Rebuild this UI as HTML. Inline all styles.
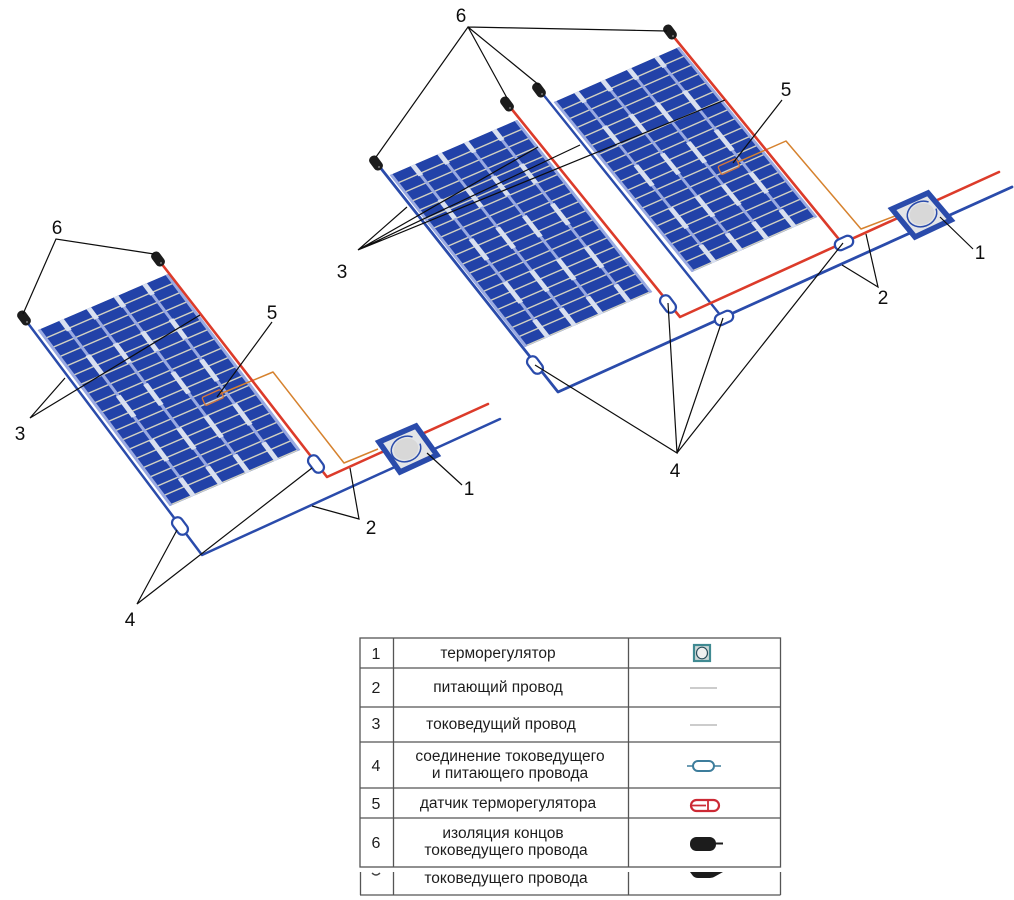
<!DOCTYPE html>
<html lang="ru">
<head>
<meta charset="utf-8">
<title>Схема</title>
<style>
html,body{margin:0;padding:0;background:#fff;width:1014px;height:900px;overflow:hidden}
svg{display:block}
text{font-family:"Liberation Sans",sans-serif}
.lab{font-size:19px;fill:#111;text-anchor:middle}
.tx{font-size:15.5px;fill:#1f1f1f;text-anchor:middle}
.num{font-size:16px;fill:#1f1f1f;text-anchor:middle}
.lead{stroke:#0c0c0c;stroke-width:1.200;fill:none}
.bl{stroke:#2a4cab;fill:none;stroke-linejoin:round;stroke-linecap:round}
.rd{stroke:#dc3a2a;fill:none;stroke-linejoin:round;stroke-linecap:round}
.or{stroke:#d6822f;stroke-width:1.500;fill:none;stroke-linejoin:round}
.tb{stroke:#555;stroke-width:1.300;fill:none}
</style>
</head>
<body>
<svg width="1014" height="900" viewBox="0 0 1014 900" xmlns="http://www.w3.org/2000/svg">
<defs>
<filter id="soft" x="0" y="0" width="100%" height="100%"><feGaussianBlur stdDeviation="0.35"/></filter>
<pattern id="rows" width="100" height="5.26" patternUnits="userSpaceOnUse">
<rect width="100" height="5.26" fill="#2343a8"/>
<rect y="4.600" width="100" height="0.660" fill="#d2d1c2"/>
</pattern>
<g id="panel">
<rect x="0" y="0" width="100" height="100" fill="url(#rows)"/>
<g fill="none">
<path d="M0.800 0V100M18 0V100M39 0V100M60 0V100M82 0V100M99.200 0V100" stroke="#9aaae2" stroke-width="2.200"/>
<path d="M18 0V6M18 20V31M18 43V55M18 68V80M18 90V100M39 0V6M39 20V31M39 43V55M39 68V80M39 90V100M60 0V6M60 20V31M60 43V55M60 68V80M60 90V100M82 0V6M82 20V31M82 43V55M82 68V80M82 90V100" stroke="#d9e0f0" stroke-width="3.600"/>
</g>
</g>
<g id="cap"><rect x="-4.800" y="-8" width="9.600" height="16" rx="4.300" fill="#1c1c1c"/><circle cx="0" cy="5" r="1" fill="#777"/></g>
<g id="joint"><rect x="-5.500" y="-9.500" width="11" height="19" rx="5.300" fill="#fff" stroke="#2a4cab" stroke-width="2.200"/></g>
</defs>

<g filter="url(#soft)">
<rect width="1014" height="900" fill="#fff"/>

<!-- Panels -->
<use href="#panel" transform="matrix(1.30 -0.56 1.32 1.76 38 330)"/>
<use href="#panel" transform="matrix(1.27 -0.55 1.35 1.72 390 175)"/>
<use href="#panel" transform="matrix(1.25 -0.55 1.38 1.70 554 102)"/>

<!-- Left diagram wires -->
<path class="or" d="M220 394L273 372L344 463L378 449"/>
<rect x="203" y="393" width="20" height="9" rx="1.500" transform="rotate(-24 213 398)" fill="none" stroke="#d4763a" stroke-width="1.300"/>
<path class="bl" stroke-width="2.500" d="M27 322L202 555L500 419"/>
<path class="rd" stroke-width="2.600" d="M161 263L327 477L488 404"/>
<use href="#joint" transform="translate(180 526) rotate(-37)"/>
<use href="#joint" transform="translate(316 464) rotate(-37)"/>
<use href="#cap" transform="translate(24 318) rotate(-37)"/>
<use href="#cap" transform="translate(158 259) rotate(-37)"/>
<path d="M379 442L416 426L437 455L400 472Z" fill="#e3e5e8" stroke="#2a4cab" stroke-width="5.500" stroke-linejoin="miter"/>
<ellipse cx="406" cy="449" rx="12.500" ry="10.500" fill="#d8d8d8" transform="rotate(-20 406 449)"/>
<ellipse cx="406" cy="449" rx="15" ry="12.500" fill="none" stroke="#2a4cab" stroke-width="1.500" transform="rotate(-20 406 449)" pathLength="100" stroke-dasharray="88 12"/>

<!-- Main diagram wires -->
<path class="or" d="M738 162L786 141L861 229L895 216"/>
<rect x="719" y="162" width="20" height="9" rx="1.500" transform="rotate(-24 729 167)" fill="none" stroke="#d4763a" stroke-width="1.300"/>
<path class="bl" stroke-width="2.800" d="M379 166L558 392L1012 187"/>
<path class="bl" stroke-width="2.400" d="M542 93L721 316"/>
<path class="rd" stroke-width="2.600" d="M510 107L680 317L999 172"/>
<path class="rd" stroke-width="2.600" d="M673 36L842 243"/>
<use href="#joint" transform="translate(535 365) rotate(-37)"/>
<use href="#joint" transform="translate(668 304) rotate(-37)"/>
<use href="#joint" transform="translate(724 318) rotate(65)"/>
<use href="#joint" transform="translate(844 243) rotate(65)"/>
<use href="#cap" transform="translate(376 163) rotate(-37)"/>
<use href="#cap" transform="translate(507 104) rotate(-37)"/>
<use href="#cap" transform="translate(539 90) rotate(-37)"/>
<use href="#cap" transform="translate(670 32) rotate(-37)"/>
<path d="M892 209L928 193L951 220L915 237Z" fill="#e3e5e8" stroke="#2a4cab" stroke-width="5.500" stroke-linejoin="miter"/>
<ellipse cx="922" cy="214" rx="12.500" ry="10.500" fill="#d8d8d8" transform="rotate(-20 922 214)"/>
<ellipse cx="922" cy="214" rx="15" ry="12.500" fill="none" stroke="#2a4cab" stroke-width="1.500" transform="rotate(-20 922 214)" pathLength="100" stroke-dasharray="88 12"/>

<!-- Leaders left -->
<path class="lead" d="M23 314L56 239L154 254"/>
<path class="lead" d="M65 378L30 418L200 315"/>
<path class="lead" d="M272 322L217 397"/>
<path class="lead" d="M350 468L359 519L312 506"/>
<path class="lead" d="M462 485L427 453"/>
<path class="lead" d="M177 530L137 604L312 468"/>
<!-- Leaders main -->
<path class="lead" d="M376 157L468 27L507 98M468 27L539 85M468 27L667 31"/>
<path class="lead" d="M407 207L358 250L580 145M358 250L725 100M358 250L538 147"/>
<path class="lead" d="M782 100L733 163"/>
<path class="lead" d="M866 234L878 287L842 265"/>
<path class="lead" d="M973 249L940 217"/>
<path class="lead" d="M535 365L677 453L668 303M677 453L723 318M677 453L843 243"/>

<!-- Labels -->
<text class="lab" x="57" y="234">6</text>
<text class="lab" x="272" y="319">5</text>
<text class="lab" x="20" y="440">3</text>
<text class="lab" x="371" y="534">2</text>
<text class="lab" x="469" y="495">1</text>
<text class="lab" x="130" y="626">4</text>
<text class="lab" x="461" y="22">6</text>
<text class="lab" x="786" y="96">5</text>
<text class="lab" x="342" y="278">3</text>
<text class="lab" x="883" y="304">2</text>
<text class="lab" x="980" y="259">1</text>
<text class="lab" x="675" y="477">4</text>

<!-- Table -->
<rect class="tb" x="360" y="638" width="420.500" height="229"/>
<path class="tb" d="M360 668H780.500M360 707H780.500M360 742H780.500M360 788H780.500M360 818H780.500M393.500 638V867M628.500 638V867"/>
<path class="tb" d="M360.500 872V895M393.500 872V895M628.500 872V895M780.500 872V895M360 895H780.500"/>

<text class="num" x="376" y="659">1</text>
<text class="num" x="376" y="693">2</text>
<text class="num" x="376" y="729">3</text>
<text class="num" x="376" y="771">4</text>
<text class="num" x="376" y="809">5</text>
<text class="num" x="376" y="848">6</text>
<path d="M372 873Q376 877 380 873" fill="none" stroke="#444" stroke-width="1.400"/>
<text class="tx" x="498" y="658">терморегулятор</text>
<text class="tx" x="498" y="692">питающий провод</text>
<text class="tx" x="501" y="729">токоведущий провод</text>
<text class="tx" x="510" y="761">соединение токоведущего</text>
<text class="tx" x="510" y="778">и питающего провода</text>
<text class="tx" x="508" y="808">датчик терморегулятора</text>
<text class="tx" x="503" y="838">изоляция концов</text>
<text class="tx" x="506" y="855">токоведущего провода</text>
<text class="tx" x="506" y="883">токоведущего провода</text>

<!-- Legend icons -->
<rect x="694" y="645" width="16" height="16" fill="#cfd8d8" stroke="#3f8a92" stroke-width="2.200"/>
<ellipse cx="702" cy="653" rx="5.500" ry="5.800" fill="#f0f0f0" stroke="#2c4f5c" stroke-width="1.200"/>
<path d="M690 688H717M690 725H717" stroke="#999" stroke-width="1.100"/>
<path d="M687 766H721" stroke="#3d7d9c" stroke-width="1.400"/>
<rect x="693" y="761" width="21" height="10" rx="5" fill="#fff" stroke="#3d7d9c" stroke-width="2"/>
<rect x="691" y="800" width="28" height="11" rx="5.500" fill="#fff" stroke="#cc2a35" stroke-width="2.200"/>
<path d="M692 805.500H706M708 801V810" stroke="#cc2a35" stroke-width="1.800"/>
<rect x="690" y="837" width="26" height="14" rx="6.500" fill="#1d1d1d"/>
<path d="M714 843.500H723" stroke="#1d1d1d" stroke-width="2"/>
<path d="M690 872H723L714 877Q712 878 708 878H698Q695 878 693 876Z" fill="#1d1d1d"/>
</g>
</svg>
</body>
</html>
